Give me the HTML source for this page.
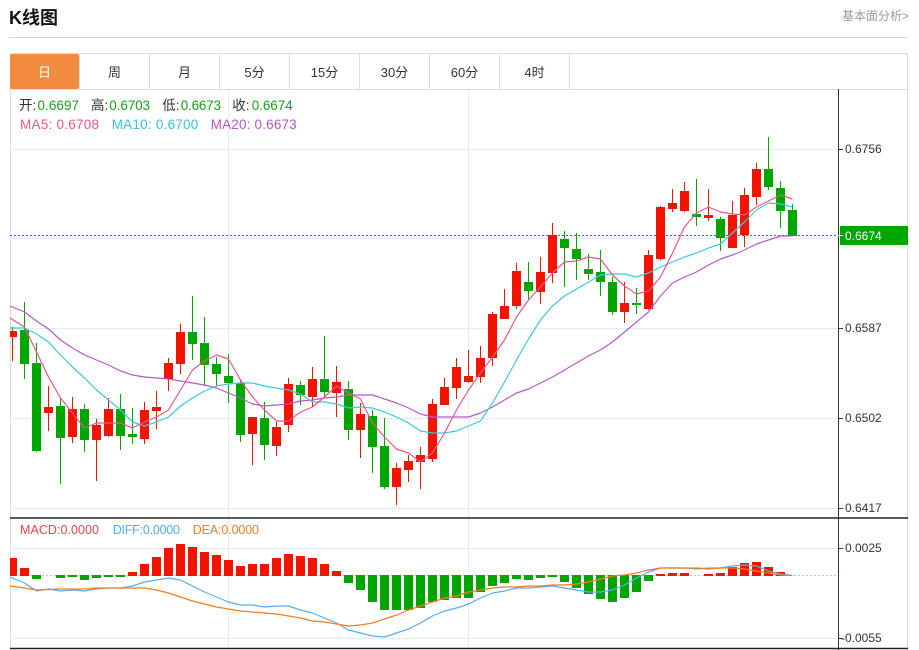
<!DOCTYPE html>
<html><head><meta charset="utf-8"><style>
html,body{margin:0;padding:0;background:#fff;}
svg{display:block;}
text{font-family:"Liberation Sans","Noto Sans CJK SC",sans-serif;}
</style></head><body>
<svg width="919" height="650" viewBox="0 0 919 650" xmlns="http://www.w3.org/2000/svg">
<rect width="919" height="650" fill="#fff"/>
<!-- header -->
<text x="9" y="24" font-size="18" font-weight="bold" fill="#111">K线图</text>
<text x="842" y="20" font-size="12" fill="#999">基本面分析&gt;</text>
<line x1="9" y1="37.5" x2="908" y2="37.5" stroke="#d4d4d4" stroke-width="1"/>
<!-- frame -->
<rect x="10.5" y="53.5" width="897" height="595" fill="none" stroke="#ddd"/>
<path d="M10 53.5H908" stroke="#ddd"/>
<rect x="10" y="54" width="69" height="35" rx="2" fill="#f28c40"/>
<g stroke="#ddd"><path d="M79.5 53V89M149.5 53V89M219.5 53V89M289.5 53V89M359.5 53V89M429.5 53V89M499.5 53V89M569.5 53V89"/><path d="M10 89.5H908"/></g>
<g font-size="13" text-anchor="middle" fill="#333">
<text x="44.5" y="77" fill="#fff">日</text><text x="114.5" y="77">周</text><text x="184.5" y="77">月</text><text x="254.5" y="77">5分</text><text x="324.5" y="77">15分</text><text x="394.5" y="77">30分</text><text x="464.5" y="77">60分</text><text x="534.5" y="77">4时</text>
</g>
<!-- grid -->
<g stroke="#e2ebf3" stroke-width="1">
<path d="M10 149.5H838M10 238.5H838M10 328.5H838M10 418.5H838M10 508.5H838M10 548.5H838M10 638.5H838"/>
<path d="M228.5 90V648M468.5 90V648"/>
</g>
<!-- current price line -->
<path d="M10 235.5H838" stroke="#1a9a1a" stroke-dasharray="2,2"/>
<!-- MACD zero line -->
<path d="M10 575.5H838" stroke="#9fd0f2" stroke-dasharray="2,2"/>
<!-- axes -->
<path d="M838.5 89V650" stroke="#333"/>
<path d="M10 518H908M10 648.5H908" stroke="#222" stroke-width="1.5"/>
<g stroke="#333"><path d="M838 149.5H843M838 328.5H843M838 418.5H843M838 508.5H843M838 548.5H843M838 638.5H843"/></g>
<g font-size="12" fill="#333">
<text x="845" y="153">0.6756</text><text x="845" y="332">0.6587</text><text x="845" y="422">0.6502</text><text x="845" y="512">0.6417</text>
<text x="845" y="552">0.0025</text><text x="841" y="642">-0.0055</text>
</g>
<rect x="840" y="226" width="68" height="19" fill="#00a600"/>
<path d="M838 235.5H843" stroke="#ddd"/>
<text x="845" y="240" font-size="12" fill="#fff">0.6674</text>
<!-- info -->
<g font-size="13.5">
<text x="19" y="110" fill="#333">开:</text><text x="37.5" y="110" fill="#19a019" textLength="41.5">0.6697</text>
<text x="91" y="110" fill="#333">高:</text><text x="109.3" y="110" fill="#19a019" textLength="40.7">0.6703</text>
<text x="162.3" y="110" fill="#333">低:</text><text x="180.7" y="110" fill="#19a019" textLength="40.3">0.6673</text>
<text x="232.3" y="110" fill="#333">收:</text><text x="251.7" y="110" fill="#19a019" textLength="41">0.6674</text>
<text x="20" y="129" fill="#ee5585" textLength="79">MA5: 0.6708</text>
<text x="111.7" y="129" fill="#33c4da" textLength="86.6">MA10: 0.6700</text>
<text x="210.7" y="129" fill="#b456c6" textLength="86">MA20: 0.6673</text>
</g>
<g font-size="12.5">
<text x="20" y="534" fill="#ee4444" textLength="79">MACD:0.0000</text>
<text x="112.7" y="534" fill="#55aaf0" textLength="67.3">DIFF:0.0000</text>
<text x="192.7" y="534" fill="#f37d22" textLength="66.3">DEA:0.0000</text>
</g>
<!-- candles -->
<g clip-path="url(#cl)">
<clipPath id="cl"><rect x="10" y="90" width="828" height="428"/></clipPath>
<g fill="#f21400" shape-rendering="crispEdges">
<rect x="12" y="327" width="1" height="34"/><rect x="8" y="331" width="9" height="6"/>
<rect x="48" y="386" width="1" height="45"/><rect x="44" y="407" width="9" height="6"/>
<rect x="72" y="397" width="1" height="46"/><rect x="68" y="409" width="9" height="28"/>
<rect x="96" y="419" width="1" height="62"/><rect x="92" y="425" width="9" height="15"/>
<rect x="108" y="398" width="1" height="39"/><rect x="104" y="409" width="9" height="27"/>
<rect x="144" y="402" width="1" height="42"/><rect x="140" y="410" width="9" height="29"/>
<rect x="156" y="391" width="1" height="38"/><rect x="152" y="407" width="9" height="4"/>
<rect x="168" y="358" width="1" height="33"/><rect x="164" y="363" width="9" height="16"/>
<rect x="180" y="324" width="1" height="50"/><rect x="176" y="332" width="9" height="32"/>
<rect x="252" y="417" width="1" height="48"/><rect x="248" y="417" width="9" height="17"/>
<rect x="276" y="422" width="1" height="34"/><rect x="272" y="427" width="9" height="19"/>
<rect x="288" y="378" width="1" height="54"/><rect x="284" y="384" width="9" height="41"/>
<rect x="312" y="367" width="1" height="40"/><rect x="308" y="379" width="9" height="18"/>
<rect x="336" y="366" width="1" height="51"/><rect x="332" y="382" width="9" height="11"/>
<rect x="360" y="403" width="1" height="55"/><rect x="356" y="414" width="9" height="16"/>
<rect x="396" y="463" width="1" height="42"/><rect x="392" y="468" width="9" height="19"/>
<rect x="408" y="455" width="1" height="27"/><rect x="404" y="461" width="9" height="9"/>
<rect x="420" y="447" width="1" height="42"/><rect x="416" y="455" width="9" height="7"/>
<rect x="432" y="399" width="1" height="63"/><rect x="428" y="404" width="9" height="55"/>
<rect x="444" y="378" width="1" height="27"/><rect x="440" y="387" width="9" height="18"/>
<rect x="456" y="358" width="1" height="41"/><rect x="452" y="367" width="9" height="21"/>
<rect x="468" y="350" width="1" height="33"/><rect x="464" y="376" width="9" height="6"/>
<rect x="480" y="346" width="1" height="37"/><rect x="476" y="358" width="9" height="19"/>
<rect x="492" y="312" width="1" height="54"/><rect x="488" y="314" width="9" height="44"/>
<rect x="504" y="289" width="1" height="30"/><rect x="500" y="306" width="9" height="13"/>
<rect x="516" y="263" width="1" height="46"/><rect x="512" y="271" width="9" height="35"/>
<rect x="540" y="257" width="1" height="47"/><rect x="536" y="272" width="9" height="20"/>
<rect x="552" y="223" width="1" height="60"/><rect x="548" y="235" width="9" height="38"/>
<rect x="624" y="282" width="1" height="41"/><rect x="620" y="303" width="9" height="9"/>
<rect x="648" y="250" width="1" height="60"/><rect x="644" y="255" width="9" height="54"/>
<rect x="660" y="206" width="1" height="54"/><rect x="656" y="207" width="9" height="52"/>
<rect x="672" y="189" width="1" height="23"/><rect x="668" y="203" width="9" height="6"/>
<rect x="684" y="182" width="1" height="30"/><rect x="680" y="191" width="9" height="20"/>
<rect x="708" y="189" width="1" height="32"/><rect x="704" y="215" width="9" height="3"/>
<rect x="732" y="201" width="1" height="47"/><rect x="728" y="215" width="9" height="33"/>
<rect x="744" y="188" width="1" height="59"/><rect x="740" y="195" width="9" height="40"/>
<rect x="756" y="163" width="1" height="42"/><rect x="752" y="169" width="9" height="28"/>
</g>
<g fill="#00a600" shape-rendering="crispEdges">
<rect x="24" y="302" width="1" height="77"/><rect x="20" y="330" width="9" height="34"/>
<rect x="36" y="343" width="1" height="109"/><rect x="32" y="363" width="9" height="88"/>
<rect x="60" y="398" width="1" height="86"/><rect x="56" y="406" width="9" height="32"/>
<rect x="84" y="404" width="1" height="48"/><rect x="80" y="409" width="9" height="31"/>
<rect x="120" y="394" width="1" height="56"/><rect x="116" y="409" width="9" height="27"/>
<rect x="132" y="408" width="1" height="36"/><rect x="128" y="434" width="9" height="3"/>
<rect x="192" y="296" width="1" height="64"/><rect x="188" y="332" width="9" height="12"/>
<rect x="204" y="317" width="1" height="69"/><rect x="200" y="343" width="9" height="22"/>
<rect x="216" y="357" width="1" height="29"/><rect x="212" y="364" width="9" height="10"/>
<rect x="228" y="354" width="1" height="49"/><rect x="224" y="376" width="9" height="7"/>
<rect x="240" y="379" width="1" height="63"/><rect x="236" y="383" width="9" height="52"/>
<rect x="264" y="402" width="1" height="58"/><rect x="260" y="418" width="9" height="27"/>
<rect x="300" y="381" width="1" height="24"/><rect x="296" y="385" width="9" height="10"/>
<rect x="324" y="336" width="1" height="61"/><rect x="320" y="379" width="9" height="13"/>
<rect x="348" y="381" width="1" height="59"/><rect x="344" y="389" width="9" height="41"/>
<rect x="372" y="410" width="1" height="63"/><rect x="368" y="416" width="9" height="31"/>
<rect x="384" y="418" width="1" height="71"/><rect x="380" y="446" width="9" height="41"/>
<rect x="528" y="262" width="1" height="37"/><rect x="524" y="282" width="9" height="9"/>
<rect x="564" y="231" width="1" height="56"/><rect x="560" y="239" width="9" height="9"/>
<rect x="576" y="233" width="1" height="47"/><rect x="572" y="249" width="9" height="10"/>
<rect x="588" y="254" width="1" height="26"/><rect x="584" y="269" width="9" height="5"/>
<rect x="600" y="250" width="1" height="46"/><rect x="596" y="272" width="9" height="10"/>
<rect x="612" y="277" width="1" height="38"/><rect x="608" y="282" width="9" height="30"/>
<rect x="636" y="288" width="1" height="26"/><rect x="632" y="303" width="9" height="2"/>
<rect x="696" y="179" width="1" height="47"/><rect x="692" y="214" width="9" height="3"/>
<rect x="720" y="217" width="1" height="34"/><rect x="716" y="219" width="9" height="19"/>
<rect x="768" y="137" width="1" height="53"/><rect x="764" y="169" width="9" height="18"/>
<rect x="780" y="181" width="1" height="47"/><rect x="776" y="188" width="9" height="23"/>
<rect x="792" y="204" width="1" height="32"/><rect x="788" y="210" width="9" height="26"/>
</g>
<!-- MAs -->
<g fill="none" stroke-width="1.2" stroke-linejoin="round">
<polyline stroke="#b45bc8" points="10,306 24.5,312 36.5,321 48.5,329 60.5,340 72.5,348 84.5,355 96.5,360 108.5,365 120.5,371 132.5,375 144.5,377 156.5,378 168.5,379 180.5,381 192.5,383 204.5,385 216.5,388 228.5,393 240.5,398 252.5,404 264.5,406 276.5,405 288.5,404 300.5,401 312.5,400 324.5,398 336.5,397 348.5,395 360.5,395 372.5,395 384.5,399 396.5,403 408.5,408 420.5,414 432.5,417 444.5,417 456.5,417 468.5,417 480.5,413 492.5,407 504.5,400 516.5,393 528.5,389 540.5,383 552.5,377 564.5,370 576.5,363 588.5,356 600.5,350 612.5,342 624.5,332 636.5,322 648.5,312 660.5,296 672.5,283 684.5,277 696.5,272 708.5,265 720.5,259 732.5,255 744.5,250 756.5,244 768.5,240 780.5,236 792.5,236"/>
<polyline stroke="#3cc8dc" points="10,328 24.5,328 36.5,334 48.5,342 60.5,355 72.5,367 84.5,378 96.5,390 108.5,400 120.5,410 132.5,422 144.5,426 156.5,422 168.5,417 180.5,406 192.5,398 204.5,391 216.5,386 228.5,384 240.5,383 252.5,383 264.5,386 276.5,388 288.5,390 300.5,394 312.5,402 324.5,402 336.5,404 348.5,408 360.5,407 372.5,408 384.5,412 396.5,417 408.5,423 420.5,431 432.5,433 444.5,433 456.5,431 468.5,426 480.5,421 492.5,403 504.5,382 516.5,360 528.5,339 540.5,320 552.5,306 564.5,296 576.5,289 588.5,282 600.5,275 612.5,274 624.5,274 636.5,277 648.5,273 660.5,267 672.5,262 684.5,257 696.5,253 708.5,248 720.5,244 732.5,233 744.5,222 756.5,210 768.5,203 780.5,204 792.5,207"/>
<polyline stroke="#ee5585" points="10,318 24.5,327 36.5,352 48.5,377 60.5,398 72.5,413 84.5,428 96.5,423 108.5,423 120.5,423 132.5,428 144.5,422 156.5,417 168.5,410 180.5,390 192.5,370 204.5,361 216.5,355 228.5,359 240.5,380 252.5,397 264.5,410 276.5,421 288.5,421 300.5,412 312.5,407 324.5,397 336.5,386 348.5,393 360.5,399 372.5,423 384.5,437 396.5,449 408.5,453 420.5,462 432.5,453 444.5,433 456.5,410 468.5,390 480.5,373 492.5,357 504.5,340 516.5,317 528.5,300 540.5,287 552.5,273 564.5,262 576.5,261 588.5,257 600.5,259 612.5,275 624.5,286 636.5,294 648.5,291 660.5,277 672.5,253 684.5,227 696.5,213 708.5,207 720.5,212 732.5,214 744.5,215 756.5,207 768.5,201 780.5,195 792.5,199"/>
</g>
</g>
<!-- MACD -->
<g clip-path="url(#cl2)">
<clipPath id="cl2"><rect x="10" y="519" width="828" height="129"/></clipPath>
<g fill="#f21400" shape-rendering="crispEdges">
<rect x="8" y="558" width="9" height="18"/><rect x="20" y="568" width="9" height="8"/>
<rect x="128" y="572" width="9" height="4"/><rect x="140" y="564" width="9" height="12"/><rect x="152" y="557" width="9" height="19"/><rect x="164" y="548" width="9" height="28"/><rect x="176" y="544" width="9" height="32"/><rect x="188" y="547" width="9" height="29"/><rect x="200" y="552" width="9" height="24"/><rect x="212" y="555" width="9" height="21"/><rect x="224" y="560" width="9" height="16"/><rect x="236" y="566" width="9" height="10"/><rect x="248" y="564" width="9" height="12"/><rect x="260" y="564" width="9" height="12"/><rect x="272" y="558" width="9" height="18"/><rect x="284" y="554" width="9" height="22"/><rect x="296" y="556" width="9" height="20"/><rect x="308" y="558" width="9" height="18"/><rect x="320" y="564" width="9" height="12"/><rect x="332" y="571" width="9" height="5"/>
<rect x="656" y="574" width="9" height="2"/><rect x="668" y="573" width="9" height="3"/><rect x="680" y="573" width="9" height="3"/><rect x="704" y="574" width="9" height="2"/><rect x="716" y="573" width="9" height="3"/><rect x="728" y="567" width="9" height="9"/><rect x="740" y="563" width="9" height="13"/><rect x="752" y="562" width="9" height="14"/><rect x="764" y="567" width="9" height="9"/><rect x="776" y="572" width="9" height="4"/>
</g>
<g fill="#00a600" shape-rendering="crispEdges">
<rect x="32" y="575" width="9" height="4"/><rect x="56" y="575" width="9" height="3"/><rect x="68" y="575" width="9" height="2"/><rect x="80" y="575" width="9" height="5"/><rect x="92" y="575" width="9" height="3"/><rect x="104" y="575" width="9" height="2"/><rect x="116" y="575" width="9" height="2"/>
<rect x="344" y="575" width="9" height="8"/><rect x="356" y="575" width="9" height="15"/><rect x="368" y="575" width="9" height="27"/><rect x="380" y="575" width="9" height="35"/><rect x="392" y="575" width="9" height="35"/><rect x="404" y="575" width="9" height="35"/><rect x="416" y="575" width="9" height="33"/><rect x="428" y="575" width="9" height="27"/><rect x="440" y="575" width="9" height="25"/><rect x="452" y="575" width="9" height="23"/><rect x="464" y="575" width="9" height="23"/><rect x="476" y="575" width="9" height="17"/><rect x="488" y="575" width="9" height="11"/><rect x="500" y="575" width="9" height="8"/><rect x="512" y="575" width="9" height="4"/><rect x="524" y="575" width="9" height="5"/><rect x="536" y="575" width="9" height="3"/><rect x="548" y="575" width="9" height="2"/><rect x="560" y="575" width="9" height="7"/><rect x="572" y="575" width="9" height="13"/><rect x="584" y="575" width="9" height="19"/><rect x="596" y="575" width="9" height="24"/><rect x="608" y="575" width="9" height="27"/><rect x="620" y="575" width="9" height="23"/><rect x="632" y="575" width="9" height="17"/><rect x="644" y="575" width="9" height="6"/>
</g>
<g fill="none" stroke-width="1.2" stroke-linejoin="round">
<polyline stroke="#5aacf0" points="10,577 24.5,583 36.5,591 48.5,589 60.5,591 72.5,590 84.5,591 96.5,589 108.5,588 120.5,588 132.5,586 144.5,582 156.5,580 168.5,578 180.5,580 192.5,586 204.5,592 216.5,597 228.5,602 240.5,605 252.5,605 264.5,607 276.5,606 288.5,606 300.5,610 312.5,613 324.5,618 336.5,623 348.5,630 360.5,633 372.5,636 384.5,637 396.5,633 408.5,629 420.5,623 432.5,616 444.5,611 456.5,608 468.5,604 480.5,598 492.5,593 504.5,591 516.5,588 528.5,588 540.5,587 552.5,586 564.5,588 576.5,590 588.5,592 600.5,592 612.5,590 624.5,585 636.5,578 648.5,572 660.5,568 672.5,568 684.5,568 696.5,569 708.5,568 720.5,568 732.5,566 744.5,565 756.5,566 768.5,571 780.5,574 792.5,575.5"/>
<polyline stroke="#f57c1f" points="10,586 24.5,588 36.5,590 48.5,589.5 60.5,589 72.5,589 84.5,589 96.5,588 108.5,588 120.5,588 132.5,588 144.5,588 156.5,590 168.5,593 180.5,597 192.5,601 204.5,604 216.5,607 228.5,609 240.5,611 252.5,612 264.5,613 276.5,614 288.5,616 300.5,618 312.5,621 324.5,622 336.5,624 348.5,626 360.5,625 372.5,623 384.5,619 396.5,615 408.5,610 420.5,606 432.5,602 444.5,598 456.5,596 468.5,592 480.5,590 492.5,588 504.5,587 516.5,587 528.5,586 540.5,586 552.5,585 564.5,585 576.5,584 588.5,582 600.5,579 612.5,576 624.5,575 636.5,573 648.5,570 660.5,568 672.5,568 684.5,568 696.5,568 708.5,569 720.5,568 732.5,568 744.5,569 756.5,571 768.5,573 780.5,575 792.5,575.5"/>
</g>
</g>
</svg>
</body></html>
